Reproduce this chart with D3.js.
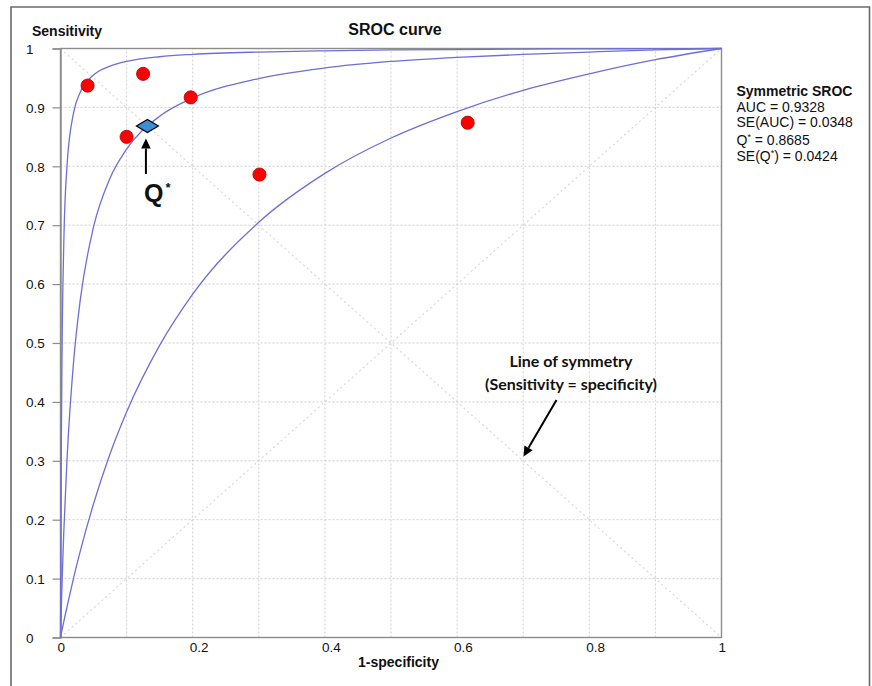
<!DOCTYPE html>
<html>
<head>
<meta charset="utf-8">
<script src="https://cdn.jsdelivr.net/npm/d3@7"></script>
<style>
  body { margin: 0; background: #fff; }
  svg { display: block; font-family: "Liberation Sans", Arial, sans-serif; }
</style>
</head>
<body>
<div id="chart"></div>
<script>
// study points (1-specificity, sensitivity)
var studyFpr = [0.041, 0.125, 0.100, 0.197, 0.301, 0.616];
var studySens = [0.937, 0.957, 0.850, 0.917, 0.786, 0.874];

// Q* point on the symmetric SROC curve
var qStar = 0.8685;

// SROC curve and its bounds
var curveFpr =    [0, 0.001, 0.0025, 0.005, 0.01, 0.02, 0.03, 0.05, 0.075, 0.1, 0.15, 0.2, 0.3, 0.4, 0.5, 0.6, 0.7, 0.8, 0.9, 1];
var upperSens =   [0, 0.288, 0.503, 0.670, 0.803, 0.892, 0.926, 0.955, 0.970, 0.978, 0.986, 0.990, 0.994, 0.996, 0.9975, 0.998, 0.999, 0.9994, 0.9997, 1];
var middleSens =  [0, 0.042, 0.099, 0.180, 0.306, 0.471, 0.574, 0.697, 0.780, 0.829, 0.885, 0.916, 0.949, 0.967, 0.978, 0.985, 0.990, 0.994, 0.9975, 1];
var lowerSens =   [0, 0.006, 0.014, 0.027, 0.053, 0.102, 0.147, 0.227, 0.312, 0.383, 0.496, 0.583, 0.705, 0.788, 0.848, 0.893, 0.929, 0.957, 0.981, 1];

var yTicks = [0, 0.1, 0.2, 0.3, 0.4, 0.5, 0.6, 0.7, 0.8, 0.9, 1];
var xTicks = [0, 0.2, 0.4, 0.6, 0.8, 1];
var gridTicks = [0.1, 0.2, 0.3, 0.4, 0.5, 0.6, 0.7, 0.8, 0.9];

var width = 872, height = 686;
var x = d3.scaleLinear().domain([0, 1]).range([60.5, 721.5]);
var y = d3.scaleLinear().domain([0, 1]).range([637.5, 48.5]);

var svg = d3.select("#chart").append("svg")
  .attr("width", width)
  .attr("height", height);

svg.append("rect").attr("width", width).attr("height", height).attr("fill", "#fff");

// outer frame (open at the bottom)
svg.append("path")
  .attr("d", "M11,690V7H869.5V690")
  .attr("fill", "none")
  .attr("stroke", "#6a6a6a")
  .attr("stroke-width", 1.6);

// grid
var grid = svg.append("g").attr("stroke", "#cfcfcf").attr("stroke-dasharray", "2,2");
grid.selectAll(".gv").data(gridTicks).enter().append("line")
  .attr("x1", d => x(d)).attr("x2", d => x(d))
  .attr("y1", y(0)).attr("y2", y(1));
grid.selectAll(".gh").data(gridTicks).enter().append("line")
  .attr("y1", d => y(d)).attr("y2", d => y(d))
  .attr("x1", x(0)).attr("x2", x(1));

// diagonals
var diag = svg.append("g").attr("stroke", "#d8d8d8").attr("stroke-dasharray", "2,3").attr("stroke-width", 1.2);
diag.append("line").attr("x1", x(0)).attr("y1", y(0)).attr("x2", x(1)).attr("y2", y(1));
diag.append("line").attr("x1", x(0)).attr("y1", y(1)).attr("x2", x(1)).attr("y2", y(0));

// plot box
svg.append("rect")
  .attr("x", x(0)).attr("y", y(1))
  .attr("width", x(1) - x(0)).attr("height", y(0) - y(1))
  .attr("fill", "none").attr("stroke", "#8c8c8c").attr("stroke-width", 1.4);

// axes
var yAxis = svg.append("g")
  .attr("transform", `translate(${x(0)},0)`)
  .call(d3.axisLeft(y).tickValues(yTicks).tickSize(8).tickFormat(d3.format("")))
  .attr("font-family", "'Liberation Sans', Arial, sans-serif");
yAxis.select(".domain").attr("stroke", "#8c8c8c").attr("stroke-width", 1.4);
yAxis.selectAll(".tick line").attr("stroke", "#8c8c8c").attr("stroke-width", 1.2);
yAxis.selectAll(".tick text")
  .attr("text-anchor", "start").attr("x", -34.5).attr("dy", "0.35em")
  .style("font-size", "13.5px").attr("fill", "#111");

var xAxis = svg.append("g")
  .attr("transform", `translate(0,${y(0)})`)
  .call(d3.axisBottom(x).tickValues(xTicks).tickSize(0).tickFormat(d3.format("")))
  .attr("font-family", "'Liberation Sans', Arial, sans-serif");
xAxis.select(".domain").remove();
xAxis.selectAll(".tick text")
  .attr("text-anchor", "start").attr("x", -3.5).attr("y", 14.5).attr("dy", 0)
  .style("font-size", "13.5px").attr("fill", "#111");

// curves
var line = d3.line()
  .x((d, i) => x(curveFpr[i]))
  .y(d => y(d))
  .curve(d3.curveMonotoneX);

svg.append("g").selectAll("path")
  .data([upperSens, middleSens, lowerSens])
  .enter().append("path")
  .attr("d", line)
  .attr("fill", "none")
  .attr("stroke", "#6e6ed6")
  .attr("stroke-width", 1.3);

// study points
svg.append("g").selectAll("circle")
  .data(studyFpr)
  .enter().append("circle")
  .attr("cx", d => x(d))
  .attr("cy", (d, i) => y(studySens[i]))
  .attr("r", 6.6)
  .attr("fill", "#ff0000")
  .attr("stroke", "#b00000")
  .attr("stroke-width", 0.8);

// Q* diamond
var qx = x(1 - qStar), qy = y(qStar);
svg.append("path")
  .attr("d", `M${qx - 11},${qy}L${qx},${qy - 6.5}L${qx + 11},${qy}L${qx},${qy + 6.5}Z`)
  .attr("fill", "#3a8fd6")
  .attr("stroke", "#000")
  .attr("stroke-width", 1.2);

// arrows
function arrow(x1, y1, x2, y2) {
  var ang = Math.atan2(y2 - y1, x2 - x1);
  var len = 10, half = 4.8;
  var bx = x2 - len * Math.cos(ang), by = y2 - len * Math.sin(ang);
  svg.append("line")
    .attr("x1", x1).attr("y1", y1).attr("x2", bx).attr("y2", by)
    .attr("stroke", "#000").attr("stroke-width", 2);
  svg.append("path")
    .attr("d", `M${x2},${y2}L${bx + half * Math.sin(ang)},${by - half * Math.cos(ang)}L${bx - half * Math.sin(ang)},${by + half * Math.cos(ang)}Z`)
    .attr("fill", "#000");
}
arrow(qx - 1.5, 174, qx - 1.5, qy + 12.5);
arrow(556.5, 400, 523.5, 456.5);

// Q* label
var qLabel = svg.append("text")
  .attr("x", 144).attr("y", 202)
  .style("font-size", "25px").style("font-weight", "bold").attr("fill", "#111");
qLabel.append("tspan").text("Q");
qLabel.append("tspan").attr("dx", 2).attr("dy", -10).style("font-size", "13px").text("*");

// titles
svg.append("text").attr("x", 395).attr("y", 35).attr("text-anchor", "middle")
  .style("font-size", "16px").style("font-weight", "bold").attr("fill", "#111").text("SROC curve");
svg.append("text").attr("x", 32).attr("y", 36)
  .style("font-size", "14px").style("font-weight", "bold").attr("fill", "#111").text("Sensitivity");
svg.append("text").attr("x", 398.5).attr("y", 667).attr("text-anchor", "middle")
  .style("font-size", "14px").style("font-weight", "bold").attr("fill", "#111").text("1-specificity");

// line of symmetry note
var note = svg.append("g")
  .style("font-family", "Lato, 'Open Sans', sans-serif")
  .style("font-size", "16px").style("font-weight", "bold").attr("fill", "#111")
  .attr("text-anchor", "middle");
note.append("text").attr("x", 571).attr("y", 367).text("Line of symmetry");
note.append("text").attr("x", 571).attr("y", 390).text("(Sensitivity = specificity)");

// legend
var legend = svg.append("g").style("font-size", "14px").attr("fill", "#111");
legend.append("text").attr("x", 736.5).attr("y", 96).style("font-weight", "bold").text("Symmetric SROC");
legend.append("text").attr("x", 736.5).attr("y", 111.5).text("AUC = 0.9328");
legend.append("text").attr("x", 736.5).attr("y", 127).text("SE(AUC) = 0.0348");
var l4 = legend.append("text").attr("x", 736.5).attr("y", 145);
l4.append("tspan").text("Q");
l4.append("tspan").attr("dy", -5).style("font-size", "9px").text("*");
l4.append("tspan").attr("dy", 5).text(" = 0.8685");
var l5 = legend.append("text").attr("x", 736.5).attr("y", 160.5);
l5.append("tspan").text("SE(Q");
l5.append("tspan").attr("dy", -5).style("font-size", "9px").text("*");
l5.append("tspan").attr("dy", 5).text(") = 0.0424");
</script>
</body>
</html>
